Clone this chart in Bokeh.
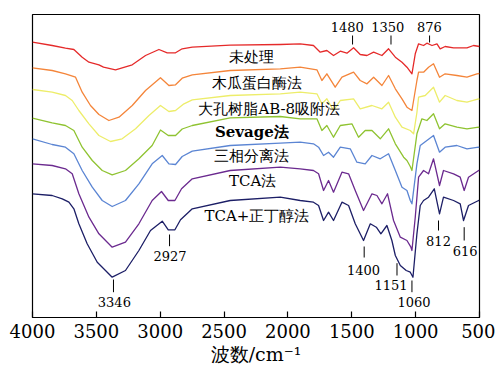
from bokeh.plotting import figure
from bokeh.models import Range1d, FixedTicker, ColumnDataSource
from bokeh.core.properties import value
from bokeh.embed import file_html
from bokeh.resources import INLINE

# ---- data (wavenumber cm-1, transmittance in arbitrary stacked units) ----
wn_red = [4000,3846,3742,3676,3611,3558,3480,3444,3350,3219,3115,3010,2945,2880,2828,2749,2452,2060,1904,1800,1747,1695,1643,1590,1538,1486,1434,1381,1329,1264,1212,1159,1107,1068,1029,1003,977,938,912,872,833,808,769,703,598,547,500]
t_red = [275.3,272,269.3,268,260.3,255.3,252.7,250.3,247.7,252.7,262,268,264.7,264.7,268.7,270.3,272.3,273,273.7,272,265.3,267,262,266.3,264.3,269.7,263,262,265.3,262,268.7,260.3,255.3,250.3,243.7,263.7,273.7,272,274.3,272,273.7,268.7,271,269.7,269.7,272,271]

wn_orange = [4000,3846,3742,3663,3611,3546,3480,3402,3323,3219,3115,2998,2932,2880,2828,2749,2452,2060,1904,1773,1734,1695,1630,1577,1486,1434,1381,1329,1264,1212,1159,1107,1068,1029,990,977,938,899,860,813,769,677,598,520,500]
t_orange = [249.7,247,243.7,240.3,225.3,212,203,197,200.3,212,227,239.7,232,232.7,239.3,242.7,247,248.7,250.3,247.7,237,243.7,230.3,240.3,245.3,237,233.7,240.3,232,242,228.7,218.7,210.3,207,237,245.3,245.3,250.3,253.7,240.3,243.7,242,240.3,243.7,244]

wn_yellow = [4000,3846,3742,3689,3637,3558,3480,3389,3298,3193,3088,2998,2932,2880,2814,2749,2452,2060,1904,1773,1734,1695,1643,1590,1486,1434,1342,1264,1212,1159,1107,1042,1016,990,977,925,860,813,769,677,598,507,500]
t_yellow = [228,225.3,222,217,207,193.7,182,176,178.7,188.7,202,212,206,207,213.7,217.7,222,223.7,225.3,223.7,213.7,218.7,207,217,218.7,208.7,212,208.7,215.3,200.3,190.3,187,183.7,205,220.3,222,230.3,215.3,222,217,215.3,218.7,218]

wn_green = [4000,3846,3742,3676,3611,3532,3454,3376,3272,3167,3063,2998,2937,2880,2828,2749,2452,2060,1904,1773,1734,1695,1643,1590,1499,1447,1395,1342,1277,1212,1159,1094,1068,1042,1029,990,951,912,860,813,769,677,598,507,500]
t_green = [199.3,194.7,192,187,170.3,157,147,142.7,147,158.7,172,187.5,182,182,188.5,192,199.7,201,198.7,198.7,187,192,180.3,192,193.7,180.3,187,187,178.7,188.7,173.7,160.3,157,151,147,183.7,198.7,197,203.7,188.7,193.7,190.3,188.7,190.3,190]

wn_blue = [4000,3846,3742,3676,3611,3532,3454,3376,3272,3167,3063,2984,2932,2880,2828,2749,2452,2060,1904,1800,1760,1721,1682,1643,1590,1512,1460,1395,1342,1277,1212,1159,1107,1068,1042,1029,990,964,912,860,813,769,677,598,507,500]
t_blue = [178.7,173,170.3,163.7,147,130.3,117,111,117,133.7,153.7,162,153.7,153,161,166.3,172,174.3,175.3,173.7,170.3,162,165.3,160.3,170.3,168.7,155.3,153.7,162,158.7,163.7,147,130.3,127,117,113.7,153.7,172,177,182,165.3,170.3,172,168.7,170.3,170]

wn_purple = [4000,3846,3742,3689,3637,3558,3480,3376,3272,3167,3063,2990,2937,2885,2833,2749,2452,2060,1904,1800,1760,1721,1682,1643,1577,1525,1473,1408,1342,1303,1264,1220,1173,1120,1068,1037,1029,1003,977,938,899,860,813,782,703,651,620,586,507,500]
t_purple = [153.7,152,148.7,143.7,123.7,100.3,83.7,70.3,75.3,93.7,117,126,117,117,128.7,138.7,147,150.3,148.7,147,143.7,127,137,125.3,145.3,143.7,127,107,123.7,122,113.7,123.7,97,80.3,77,70.3,67,100.3,140.3,147,143.7,158.7,132,147,143.7,140.3,127,140.3,147,147]

wn_navy = [4000,3846,3767,3715,3676,3637,3572,3493,3376,3272,3167,3076,2984,2937,2885,2841,2749,2452,2060,1904,1800,1760,1721,1682,1643,1577,1525,1473,1408,1355,1308,1272,1225,1186,1159,1120,1074,1042,1021,990,964,938,899,854,813,782,703,651,625,586,507,500]
t_navy = [123.7,122,118.7,115.3,108.7,93.7,73.7,55.3,40.3,47,67,87,96.3,87.7,87.7,97.7,108.7,117,120.3,117,115.3,112,97,105.3,97,115.3,112,93.7,77,93.7,90.3,83.7,92,77,62,52,47,45.3,40.3,83.7,112,117,120.3,128.7,103.7,120.3,117,113.7,97,112,117,117]

series_names = ["未处理", "木瓜蛋白酶法", "大孔树脂AB-8吸附法", "Sevage法", "三相分离法", "TCA法", "TCA+正丁醇法"]
series_colors = ["#e52a2a", "#f4853a", "#eded6a", "#8fc331", "#5b85d3", "#6b2a8f", "#1c1e66"]
name_x = [2283, 2243, 2146, 2282, 2282, 2276, 2243]
name_y = [260.3, 235, 208.3, 186, 161.7, 136.3, 101.3]
name_style = ["normal", "normal", "normal", "bold", "normal", "normal", "normal"]

peak_labels = ["1480", "1350", "876", "3346", "2927", "1400", "1151", "1060", "812", "616"]
peak_tick_x = [1494, 1193, 891, 3366, 2927, 1403, 1146, 1029, 821, 620]
peak_tick_y0 = [273, 273, 275, 25.3, 71.3, 60, 42, 25.3, 87, 77]
peak_tick_y1 = [282, 282, 282, 38, 83, 71, 54.3, 37, 97, 90.3]
peak_label_x = [1536, 1218, 893, 3359, 2924, 1408, 1193, 1013, 821, 612]
peak_label_y = [290.8, 290.8, 291, 15.5, 61.2, 48, 33, 16, 77, 66.5]

x_ticks = [4000, 3500, 3000, 2500, 2000, 1500, 1000, 500]

SERIF = "DejaVu Serif"

# ---- figure ----
p = figure(width=495, height=369, output_backend="svg", toolbar_location=None,
           x_range=Range1d(4000, 500), y_range=Range1d(0, 303),
           min_border_left=32, min_border_right=16, min_border_top=14, min_border_bottom=52)
p.background_fill_color = "white"
p.border_fill_color = "white"
p.outline_line_color = "black"
p.outline_line_width = 1.2
p.grid.visible = False
p.yaxis.visible = False

ax = p.xaxis[0]
ax.ticker = FixedTicker(ticks=x_ticks)
ax.major_tick_in = 6
ax.major_tick_out = 0
ax.minor_tick_line_color = None
ax.axis_line_color = "black"
ax.axis_line_width = 1.2
ax.major_tick_line_width = 1.2
ax.major_label_text_font = SERIF
ax.major_label_text_font_size = "18px"
ax.major_label_text_color = "black"
ax.major_label_standoff = 6
ax.axis_label = "波数/cm⁻¹"
ax.axis_label_text_font = SERIF
ax.axis_label_text_font_size = "19px"
ax.axis_label_text_font_style = "normal"
ax.axis_label_text_color = "black"
ax.axis_label_standoff = 2

all_wn = [wn_red, wn_orange, wn_yellow, wn_green, wn_blue, wn_purple, wn_navy]
all_t = [t_red, t_orange, t_yellow, t_green, t_blue, t_purple, t_navy]
for wn, t, c in zip(all_wn, all_t, series_colors):
    p.line(wn, t, line_color=c, line_width=1.3, line_join="round")

names_src = ColumnDataSource(dict(x=name_x, y=name_y, text=series_names, style=name_style))
p.text(x="x", y="y", text="text", source=names_src, text_font=value(SERIF),
       text_font_size="15px", text_font_style="style", text_align="center",
       text_baseline="middle", text_color="black")

p.segment(x0=peak_tick_x, y0=peak_tick_y0, x1=peak_tick_x, y1=peak_tick_y1,
          line_color="black", line_width=1)
p.text(x=peak_label_x, y=peak_label_y, text=peak_labels, text_font=value(SERIF),
       text_font_size="13px", text_align="center", text_baseline="middle", text_color="black")

open("out.html", "w").write(file_html(p, INLINE))
